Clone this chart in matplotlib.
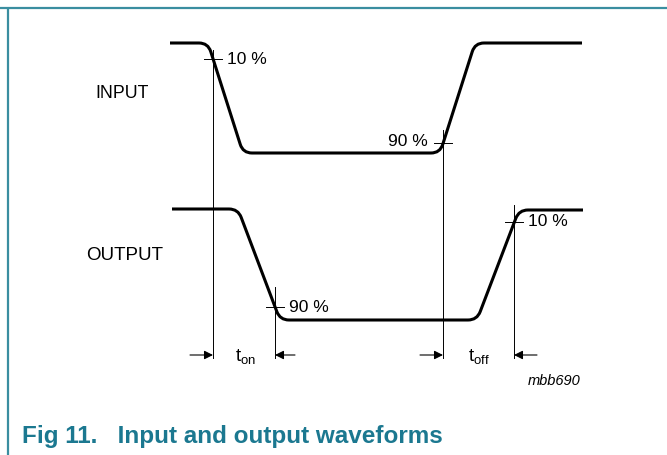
import numpy as np
import matplotlib
matplotlib.use("Agg")
import matplotlib.pyplot as plt
from matplotlib.path import Path
from matplotlib.patches import PathPatch

plt.rcParams['font.family'] = ['Liberation Sans', 'DejaVu Sans']

# waveform corner points (pixel coords of the drawing, y down)
input_x = [170, 208, 243, 440, 475, 582]
input_y = [43, 43, 153, 153, 43, 43]
output_x = [172, 238, 280, 477, 519, 583]
output_y = [209, 209, 320, 320, 210, 210]

# timing marker lines: x, top of line
marker_x = [213, 443, 275, 514]
marker_top = [50, 130, 287, 205]
marker_bottom = 358

# crosses where the level is read
cross_x = [213, 443, 275, 514]
cross_y = [59, 143, 307, 222]
cross_labels = ['10 %', '90 %', '90 %', '10 %']

# timing arrows
arrow_y = 355
arrow_from = [190, 295, 420, 537]
arrow_to = [213, 275, 443, 514]

teal = '#3a8ea0'
caption_col = '#1b7890'


def rounded_path(xs, ys, r=9):
    pts = np.column_stack([xs, ys]).astype(float)
    verts = [pts[0]]
    codes = [Path.MOVETO]
    for i in range(1, len(pts) - 1):
        p0, p1, p2 = pts[i - 1], pts[i], pts[i + 1]
        d1 = (p0 - p1) / np.linalg.norm(p0 - p1)
        d2 = (p2 - p1) / np.linalg.norm(p2 - p1)
        a = p1 + d1 * r
        b = p1 + d2 * r
        verts += [a, p1, b]
        codes += [Path.LINETO, Path.CURVE3, Path.CURVE3]
    verts.append(pts[-1])
    codes.append(Path.LINETO)
    return Path(verts, codes)


fig = plt.figure(figsize=(6.67, 4.55), dpi=100)
ax = fig.add_axes([0, 0, 1, 1])
ax.set_xlim(0, 667)
ax.set_ylim(455, 0)
ax.axis('off')

# frame
ax.plot([0, 667], [7.5, 7.5], color=teal, lw=1.6, solid_capstyle='butt')
ax.plot([7.5, 7.5], [7.5, 455], color=teal, lw=1.6, solid_capstyle='butt')

# waveforms
for xs, ys in [(input_x, input_y), (output_x, output_y)]:
    ax.add_patch(PathPatch(rounded_path(xs, ys), fill=False, lw=2.2,
                           edgecolor='black', capstyle='butt', joinstyle='round'))

# marker lines
for x, top in zip(marker_x, marker_top):
    ax.plot([x, x], [top, marker_bottom], color='black', lw=0.7)

# crosses + labels
for i, (x, y, lab) in enumerate(zip(cross_x, cross_y, cross_labels)):
    ax.plot([x - 9, x + 9], [y, y], color='black', lw=0.7)
    if i == 1:
        ax.text(x - 15, y - 1, lab, fontsize=12.5, ha='right', va='center')
    else:
        ax.text(x + 14, y, lab, fontsize=12.5, ha='left', va='center')

# timing arrows
for x0, x1 in zip(arrow_from, arrow_to):
    ax.annotate('', xy=(x1, arrow_y), xytext=(x0, arrow_y),
                arrowprops=dict(arrowstyle='-|>', color='black', lw=0.8,
                                mutation_scale=13, shrinkA=0, shrinkB=0))

ax.text(246, 357, r'$\mathregular{t_{on}}$', fontsize=13.5, ha='center', va='center')
ax.text(479, 357, r'$\mathregular{t_{off}}$', fontsize=13.5, ha='center', va='center')

ax.text(122, 94, 'INPUT', fontsize=12.8, ha='center', va='center')
ax.text(125, 255, 'OUTPUT', fontsize=13.5, ha='center', va='center')
ax.text(580, 381, 'mbb690', fontsize=10.5, style='italic', ha='right', va='center')

ax.text(22, 436, 'Fig 11.   Input and output waveforms', fontsize=17.5,
        fontweight='bold', color=caption_col, ha='left', va='center')

fig.savefig('out.png', dpi=100)
